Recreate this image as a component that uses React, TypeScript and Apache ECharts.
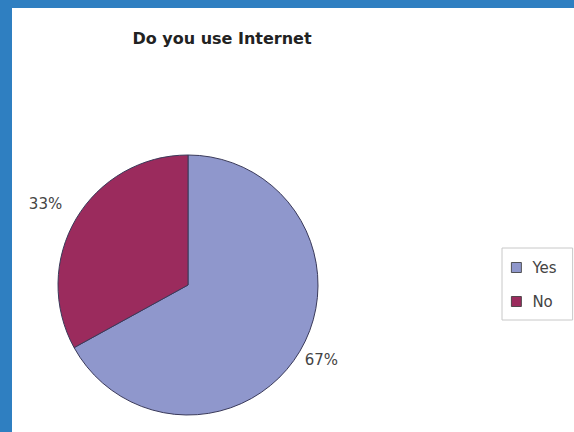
import React, { useEffect, useRef } from "react";
import * as echarts from "echarts";

const categories = ["Yes", "No"];
const values = [67, 33];
const colors = ["#8f97cc", "#9b2b5d"];
const labelShift = [
  [-7, 5],
  [-2, -11],
];

export default function App() {
  const ref = useRef<HTMLDivElement>(null);
  useEffect(() => {
    const chart = echarts.init(ref.current!, null, { renderer: "svg" });
    chart.setOption({
      animation: false,
      backgroundColor: "#ffffff",
      title: {
        text: "Do you use Internet",
        left: 217,
        top: 25,
        textAlign: "center",
        textStyle: { fontFamily: "DejaVu Sans", fontSize: 16, fontWeight: "bold", color: "#222" },
      },
      graphic: [
        { type: "rect", shape: { x: 0, y: 0, width: 574, height: 8 }, style: { fill: "#2f7fc1" } },
        { type: "rect", shape: { x: 0, y: 0, width: 12, height: 432 }, style: { fill: "#2f7fc1" } },
      ],
      legend: {
        orient: "vertical",
        left: 502,
        top: 248,
        data: categories,
        icon: "rect",
        itemWidth: 10,
        itemHeight: 10,
        itemGap: 19,
        padding: [12, 16, 11, 9],
        borderColor: "#c8c8c8",
        borderWidth: 1,
        textStyle: { fontFamily: "DejaVu Sans", fontSize: 15, color: "#444", padding: [0, 0, 0, 6] },
        itemStyle: { borderColor: "#333", borderWidth: 0.8 },
      },
      series: [
        {
          type: "pie",
          center: [188, 285],
          radius: 130,
          startAngle: 90,
          clockwise: true,
          data: categories.map((c, i) => ({ name: c, value: values[i], itemStyle: { color: colors[i] } })),
          itemStyle: { borderColor: "#3a3a5a", borderWidth: 1 },
          label: {
            show: true,
            position: "outside",
            formatter: "{d}%",
            fontFamily: "DejaVu Sans",
            fontSize: 15,
            color: "#444",
          },
          labelLine: { show: false, length: 8, length2: 0 },
          labelLayout: (p: any) => ({ dx: labelShift[p.dataIndex][0], dy: labelShift[p.dataIndex][1] }),
        },
      ],
    });
    return () => chart.dispose();
  }, []);
  return <div ref={ref} style={{ position: "fixed", left: 0, top: 0, width: 574, height: 432 }} />;
}
